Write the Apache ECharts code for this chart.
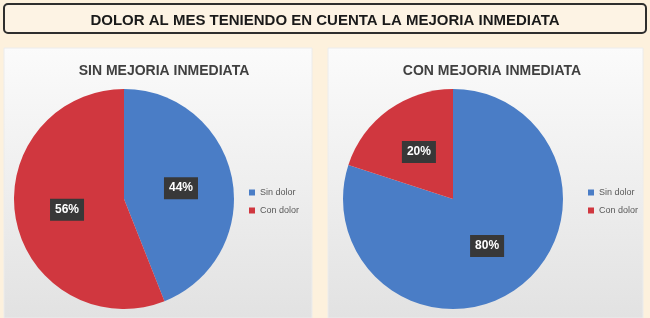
<!DOCTYPE html>
<html>
<head>
<meta charset="utf-8">
<script src="https://cdn.jsdelivr.net/npm/echarts@6/dist/echarts.min.js"></script>
<style>
  html, body { margin: 0; padding: 0; background: #fdf1dd; }
  #chart { width: 650px; height: 318px; }
</style>
</head>
<body>
<div id="chart"></div>
<script>
const mainTitle = 'DOLOR AL MES TENIENDO EN CUENTA LA MEJORIA INMEDIATA'
const panelTitles = ['SIN MEJORIA INMEDIATA', 'CON MEJORIA INMEDIATA']
const categories = ['Sin dolor', 'Con dolor']
const sinMejoria = [44, 56]
const conMejoria = [80, 20]
const colors = ['#4a7dc6', '#d0373f']

const font = '"Liberation Sans", Arial, sans-serif'
const chart = echarts.init(document.getElementById('chart'))

const panelFill = {
  type: 'linear', x: 0, y: 0, x2: 0, y2: 1,
  colorStops: [{ offset: 0, color: '#fbfbfb' }, { offset: 1, color: '#e2e2e2' }]
}

function makePie(values, center) {
  return {
    type: 'pie',
    radius: 110,
    center: center,
    startAngle: 90,
    clockwise: true,
    silent: true,
    animation: false,
    data: categories.map((c, i) => ({
      name: c,
      value: values[i],
      itemStyle: { color: colors[i] }
    })),
    label: {
      position: 'inside',
      formatter: '{c}%',
      color: '#fff',
      fontWeight: 'bold',
      fontSize: 12,
      fontFamily: font,
      backgroundColor: '#383838',
      padding: [5, 5, 5, 5]
    },
    labelLine: { show: false }
  }
}

function makeLegend(left) {
  return {
    orient: 'vertical',
    left: left,
    top: 183,
    icon: 'rect',
    itemWidth: 6,
    itemHeight: 6,
    itemGap: 9,
    selectedMode: false,
    data: categories,
    textStyle: { fontSize: 9, color: '#595959', fontFamily: font }
  }
}

chart.setOption({
  graphic: [
    {
      type: 'rect',
      shape: { x: 4, y: 4, width: 642, height: 29, r: 4 },
      style: { fill: '#fdf3e4', stroke: '#2e2e2e', lineWidth: 2 },
      z: -10
    },
    {
      type: 'rect',
      shape: { x: 4, y: 48, width: 308, height: 270 },
      style: { fill: panelFill, stroke: '#ececec', lineWidth: 1 },
      z: -10
    },
    {
      type: 'rect',
      shape: { x: 328, y: 48, width: 315, height: 270 },
      style: { fill: panelFill, stroke: '#ececec', lineWidth: 1 },
      z: -10
    }
  ],
  title: [
    {
      text: mainTitle,
      left: 'center',
      top: 8,
      textStyle: { fontSize: 15, fontWeight: 'bold', color: '#1a1a1a', fontFamily: font }
    },
    {
      text: panelTitles[0],
      left: 159,
      top: 59,
      textAlign: 'center',
      textStyle: { fontSize: 14, fontWeight: 'bold', color: '#404040', fontFamily: font }
    },
    {
      text: panelTitles[1],
      left: 487,
      top: 59,
      textAlign: 'center',
      textStyle: { fontSize: 14, fontWeight: 'bold', color: '#404040', fontFamily: font }
    }
  ],
  legend: [makeLegend(244), makeLegend(583)],
  series: [
    makePie(sinMejoria, [124, 199]),
    makePie(conMejoria, [453, 199])
  ]
})
</script>
</body>
</html>
